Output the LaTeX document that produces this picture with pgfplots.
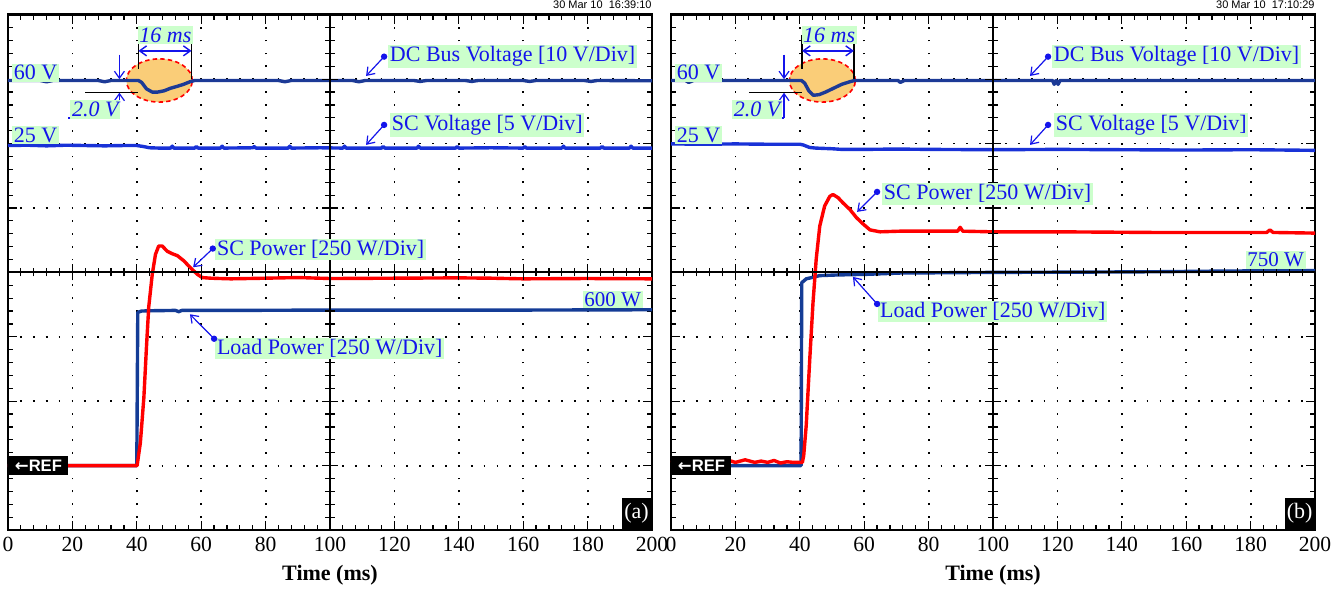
\documentclass[border=0pt]{standalone}
\usepackage{pgfplots}
\pgfplotsset{compat=1.18}
\usepackage{fontspec}
\setmainfont{Liberation Serif}
\setsansfont{Liberation Sans}
\newfontfamily\djv{DejaVu Sans}
\usetikzlibrary{arrows.meta}

\definecolor{dcblue}{RGB}{28,58,150}
\definecolor{scblue}{RGB}{25,50,215}
\definecolor{loadblue}{RGB}{20,60,150}
\definecolor{labblue}{RGB}{20,20,235}
\definecolor{labgreen}{RGB}{204,255,204}
\definecolor{ellfill}{RGB}{250,205,120}

\tikzset{
  lab/.style={fill=labgreen, text=labblue, inner sep=0.8pt, font=\fontsize{11}{12}\selectfont},
  ptr/.style={labblue, line width=0.6pt, -{Straight Barb[length=3.5pt,width=5pt]}},
}

\pgfplotsset{
  osc/.style={
    x=1.61pt, y=32.2pt,
    xmin=0, xmax=200, ymin=0, ymax=8,
    xtick={0,20,...,200}, ytick={0,1,...,8},
    yticklabels={},
    minor x tick num=4, minor y tick num=4,
    tick align=inside,
    major tick length=4.5pt, minor tick length=2.6pt,
    tick style={black, line width=0.6pt},
    axis line style={line width=1.4pt},
    grid=major,
    major grid style={black, line width=0.9pt, dash pattern=on 0.9pt off 5.54pt, dash phase=0.45pt},
    clip=false,
    ticklabel style={font=\fontsize{10.8}{11}\selectfont},
    /pgf/number format/assume math mode=true,
    xlabel={Time (ms)},
    xlabel style={font=\fontsize{11}{12}\selectfont\bfseries, at={(axis description cs:0.5,0)}, anchor=center, yshift=-22.5pt},
  },
  trace/.style={line width=1.7pt, line join=round},
}

% centre cross of the graticule
\newcommand{\centrecross}{%
  \draw[black, line width=0.9pt] (axis cs:0,4) -- (axis cs:200,4);
  \draw[black, line width=0.9pt] (axis cs:100,0) -- (axis cs:100,8);
  \pgfplotsinvokeforeach{4,8,...,196}{\draw[black, line width=0.6pt] (axis cs:##1,4) ++(0,-2pt) -- ++(0,4pt);}
  \pgfplotsinvokeforeach{20,40,...,180}{\draw[black, line width=0.6pt] (axis cs:##1,4) ++(0,-4pt) -- ++(0,8pt);}
  \pgfplotsinvokeforeach{0.2,0.4,...,7.8}{\draw[black, line width=0.6pt] (axis cs:100,##1) ++(-2.5pt,0) -- ++(5pt,0);}
  \pgfplotsinvokeforeach{1,2,...,7}{\draw[black, line width=0.6pt] (axis cs:100,##1) ++(-4pt,0) -- ++(8pt,0);}
}

% dip marker: ellipse, 16 ms and 2.0 V dimensions
\newcommand{\dipmark}[6]{% #1 ellipse x, #2 left line, #3 right line, #4 black line start, #5 arrow x, #6 blue line end
  \fill[ellfill] (axis cs:#1,6.98) ellipse [x radius=16.5pt, y radius=10.8pt];
  \draw[red, line width=0.8pt, dash pattern=on 2.2pt off 1.6pt] (axis cs:#1,6.98) ellipse [x radius=16.5pt, y radius=10.8pt];
  \draw[black, line width=0.7pt] (axis cs:#2,7.16) -- (axis cs:#2,7.68);
  \draw[black, line width=0.7pt] (axis cs:#3,7.0) -- (axis cs:#3,7.66);
  \draw[labblue, line width=0.7pt, {Straight Barb[length=3.5pt,width=5pt]}-{Straight Barb[length=3.5pt,width=5pt]}] (axis cs:#2,7.44) -- (axis cs:#3,7.44);
  \draw[black, line width=0.7pt] (axis cs:#4,6.79) -- (axis cs:#2,6.79);
  \draw[ptr] (axis cs:#5,7.38) -- (axis cs:#5,7.0);
  \draw[ptr] (axis cs:#5,6.40) -- (axis cs:#5,6.79);
  \draw[labblue, line width=0.7pt] (axis cs:#5,6.40) -- (axis cs:#6,6.40);
}

\newcommand{\refbox}{%
  \node[anchor=west, fill=black, text=white, inner sep=1pt, minimum width=30pt, minimum height=9.5pt, font=\sffamily\bfseries\fontsize{8.3}{9}\selectfont] at (axis cs:0,1.0) {{\djv\bfseries ←}REF};
}

\begin{document}
\begin{tikzpicture}
\useasboundingbox (-4pt,-30pt) rectangle (667pt,265pt);

% ---------------- (a) ----------------
\begin{axis}[osc, at={(0pt,0pt)}, anchor=south west]
  \dipmark{47.0}{40.5}{57.0}{24.0}{34.6}{18.7}

  % DC bus voltage
  \addplot[trace, dcblue] coordinates {
    (0,6.98)(10,6.98)(12,6.96)(14,6.98)(28,6.98)(30,6.96)(32,6.98)(40.5,6.98)
    (41.5,6.95)(43,6.85)(44.8,6.80)(46.5,6.80)(48.5,6.82)(50.5,6.86)(52.6,6.89)
    (54.5,6.92)(56.5,6.96)(58,6.98)(84,6.98)(86,6.96)(88,6.98)(107,6.98)(109,6.96)
    (111,6.98)(126,6.98)(128,6.965)(130,6.98)(142,6.98)(144,6.965)(146,6.98)
    (160,6.98)(162,6.965)(164,6.98)(179,6.98)(181,6.965)(183,6.98)(200,6.975)
  };
  % SC voltage
  \addplot[trace, scblue] coordinates {
    (0,5.97)(6,5.975)(12,5.965)(18,5.975)(24,5.97)(30,5.965)(36,5.97)(40,5.97)
    (42,5.955)(44,5.935)(47,5.93)(50.5,5.93)(51,5.96)(51.5,5.93)(58,5.93)(58.5,5.955)
    (59,5.93)(66,5.93)(66.5,5.96)(67,5.93)(76,5.935)(76.5,5.955)(77,5.93)(87,5.93)
    (87.5,5.96)(88,5.93)(97,5.935)(104,5.93)(104.5,5.96)(105,5.93)(116,5.93)
    (116.5,5.955)(117,5.93)(127,5.93)(127.5,5.96)(128,5.93)(139,5.93)(139.5,5.955)
    (140,5.93)(150,5.935)(160,5.93)(160.5,5.955)(161,5.93)(172,5.93)(172.5,5.96)
    (173,5.93)(184,5.93)(184.5,5.955)(185,5.93)(193,5.93)(193.5,5.96)(194,5.93)(200,5.93)
  };
  % load power
  \addplot[trace, loadblue] coordinates {
    (0,1.0)(40.0,1.0)(40.3,3.38)(41.5,3.40)(45,3.405)(52,3.41)(53,3.39)(54,3.41)
    (70,3.41)(100,3.415)(130,3.415)(160,3.415)(200,3.42)
  };
  % SC power
  \addplot[trace, red] coordinates {
    (0,1.0)(40.1,1.0)(41.1,1.35)(42.2,2.06)(43.0,2.84)(43.7,3.46)(44.8,3.97)
    (45.8,4.28)(46.8,4.41)(47.9,4.41)(49.4,4.33)(51.0,4.29)(52.6,4.26)(54.6,4.18)
    (56.7,4.07)(58.8,3.97)(60.3,3.92)(62.9,3.91)(69.2,3.90)(80,3.91)(90,3.92)
    (100,3.905)(120,3.91)(140,3.915)(150,3.91)(160,3.90)(180,3.905)(200,3.90)
  };

  \centrecross

  \node[lab, anchor=west] at (axis cs:1.2,7.10) {60 V};
  \node[lab, anchor=west] at (axis cs:1.2,6.13) {25 V};
  \node[lab, font=\fontsize{11}{12}\selectfont\itshape] at (axis cs:48.9,7.68) {16 ms};
  \node[lab, font=\fontsize{11}{12}\selectfont\itshape] at (axis cs:27.1,6.53) {2.0 V};

  \node[lab, anchor=west] at (axis cs:118.0,7.35) {DC Bus Voltage [10 V/Div]};
  \fill[labblue] (axis cs:116.8,7.35) circle (1.6pt);
  \draw[ptr] (axis cs:116.8,7.35) -- (axis cs:111.2,7.05);

  \node[lab, anchor=west] at (axis cs:118.6,6.29) {SC Voltage [5 V/Div]};
  \fill[labblue] (axis cs:116.8,6.29) circle (1.6pt);
  \draw[ptr] (axis cs:116.8,6.29) -- (axis cs:111.2,5.98);

  \node[lab, anchor=west] at (axis cs:64.3,4.36) {SC Power [250 W/Div]};
  \fill[labblue] (axis cs:63.6,4.37) circle (1.6pt);
  \draw[ptr] (axis cs:63.6,4.37) -- (axis cs:57.5,4.08);

  \node[lab, anchor=west] at (axis cs:64.3,2.82) {Load Power [250 W/Div]};
  \fill[labblue] (axis cs:64.0,2.97) circle (1.6pt);
  \draw[ptr] (axis cs:64.0,2.97) -- (axis cs:56.5,3.35);

  \node[lab, anchor=east, font=\fontsize{10.5}{11}\selectfont] at (axis cs:197.2,3.58) {600 W};

  \node[anchor=east, font=\sffamily\fontsize{5.5}{6}\selectfont, inner sep=0pt] at (axis cs:200,8.15) {30 Mar 10\ \ 16:39:10};
  \node[anchor=south east, fill=black, text=white, inner sep=0pt, minimum width=15pt, minimum height=16pt, font=\fontsize{11}{12}\selectfont] at (axis cs:200,0) {(a)};
  \refbox
\end{axis}

% ---------------- (b) ----------------
\begin{axis}[osc, at={(331.5pt,0pt)}, anchor=south west]
  \dipmark{47.0}{40.7}{56.8}{24.2}{35.1}{18.9}

  % DC bus voltage
  \addplot[trace, dcblue] coordinates {
    (0,6.98)(4.5,6.98)(5.5,6.95)(7,6.98)(40.5,6.98)(41.5,6.94)(42.8,6.82)(44.2,6.75)
    (46,6.76)(48,6.80)(50.5,6.86)(53,6.92)(55.5,6.96)(57,6.98)(70.5,6.98)(71.2,6.95)
    (72.5,6.98)(118.5,6.98)(119,6.92)(119.6,6.98)(120.2,6.92)(120.8,6.98)(200,6.98)
  };
  % SC voltage
  \addplot[trace, scblue] coordinates {
    (0,5.995)(10,5.99)(20,5.995)(30,5.99)(40,5.99)(41,5.98)(43,5.94)(45,5.93)
    (50,5.92)(53,5.91)(60,5.91)(70,5.915)(80,5.91)(100,5.905)(120,5.91)(140,5.905)
    (160,5.90)(180,5.905)(200,5.895)
  };
  % load power
  \addplot[trace, loadblue] coordinates {
    (0,1.0)(40.4,1.0)(40.6,3.84)(42.0,3.90)(46.2,3.95)(51.4,3.96)(60.7,3.97)
    (71.1,3.99)(100,4.0)(130,4.005)(150,4.01)(170,4.02)(200,4.03)
  };
  % SC power
  \addplot[trace, red] coordinates {
    (0,1.05)(3,1.07)(5,1.05)(8,1.08)(10,1.04)(13,1.07)(15,1.05)(18,1.08)(20,1.05)
    (23,1.09)(26,1.05)(28,1.07)(30,1.05)(32,1.08)(34,1.04)(36,1.06)(38,1.05)
    (40.8,1.05)(41.2,1.15)(42.0,1.63)(43.1,2.66)(44.1,3.53)(45.1,4.21)(46.2,4.72)
    (47.7,5.03)(49.3,5.18)(50.3,5.21)(51.9,5.16)(53.4,5.08)(55.5,4.98)(57.6,4.85)
    (59.7,4.75)(61.8,4.66)(64.9,4.63)(71.1,4.64)(89,4.64)(89.8,4.70)(90.6,4.64)
    (100,4.63)(120,4.63)(150,4.62)(185,4.62)(186,4.66)(187,4.62)(200,4.61)
  };

  \centrecross

  \node[lab, anchor=west] at (axis cs:1.2,7.10) {60 V};
  \node[lab, anchor=west] at (axis cs:1.2,6.13) {25 V};
  \node[lab, font=\fontsize{11}{12}\selectfont\itshape] at (axis cs:49.1,7.68) {16 ms};
  \node[lab, font=\fontsize{11}{12}\selectfont\itshape] at (axis cs:26.7,6.53) {2.0 V};

  \node[lab, anchor=west] at (axis cs:118.3,7.35) {DC Bus Voltage [10 V/Div]};
  \fill[labblue] (axis cs:117.1,7.35) circle (1.6pt);
  \draw[ptr] (axis cs:117.1,7.35) -- (axis cs:111.5,7.05);

  \node[lab, anchor=west] at (axis cs:118.9,6.29) {SC Voltage [5 V/Div]};
  \fill[labblue] (axis cs:117.1,6.29) circle (1.6pt);
  \draw[ptr] (axis cs:117.1,6.29) -- (axis cs:111.5,5.98);

  \node[lab, anchor=west] at (axis cs:65.5,5.22) {SC Power [250 W/Div]};
  \fill[labblue] (axis cs:64.0,5.25) circle (1.6pt);
  \draw[ptr] (axis cs:64.0,5.25) -- (axis cs:57.8,4.94);

  \node[lab, anchor=west] at (axis cs:64.3,3.39) {Load Power [250 W/Div]};
  \fill[labblue] (axis cs:64.0,3.51) circle (1.6pt);
  \draw[ptr] (axis cs:64.0,3.51) -- (axis cs:56.5,3.93);

  \node[lab, anchor=east, font=\fontsize{10.5}{11}\selectfont] at (axis cs:197.2,4.19) {750 W};

  \node[anchor=east, font=\sffamily\fontsize{5.5}{6}\selectfont, inner sep=0pt] at (axis cs:200,8.15) {30 Mar 10\ \ 17:10:29};
  \node[anchor=south east, fill=black, text=white, inner sep=0pt, minimum width=15pt, minimum height=16pt, font=\fontsize{11}{12}\selectfont] at (axis cs:200,0) {(b)};
  \refbox
\end{axis}
\end{tikzpicture}
\end{document}
